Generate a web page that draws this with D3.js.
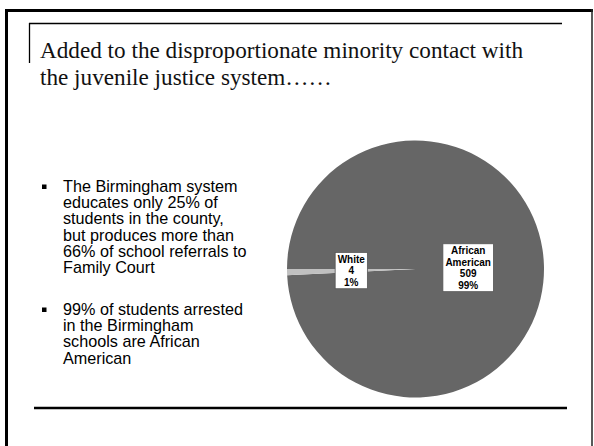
<!DOCTYPE html>
<html>
<head>
<meta charset="utf-8">
<script src="https://cdn.jsdelivr.net/npm/d3@7"></script>
<style>
  body { margin: 0; background: #fff; }
  svg { display: block; }
</style>
</head>
<body>
<div id="chart"></div>
<script>
// data
var categories = ["African American", "White"];
var counts = [509, 4];
var sliceColors = ["#666666", "#c0c0c0"];

var titleLines = [
	"Added to the disproportionate minority contact with",
	"the juvenile justice system……"
];
var bullets = [
	["The Birmingham system", "educates only 25% of", "students in the county,", "but produces more than", "66% of school referrals to", "Family Court"],
	["99% of students arrested", "in the Birmingham", "schools are African", "American"]
];

var W = 594, H = 446;
var svg = d3.select("#chart").append("svg")
	.attr("width", W)
	.attr("height", H);

// slide frame
svg.append("line").attr("x1", 5).attr("y1", 10.5).attr("x2", 593).attr("y2", 10.5)
	.attr("stroke", "#000").attr("stroke-width", 3);
svg.append("line").attr("x1", 6.5).attr("y1", 9).attr("x2", 6.5).attr("y2", H)
	.attr("stroke", "#000").attr("stroke-width", 3);
svg.append("line").attr("x1", 592).attr("y1", 9).attr("x2", 592).attr("y2", H)
	.attr("stroke", "#222").attr("stroke-width", 1.5);
// title rules
svg.append("line").attr("x1", 29).attr("y1", 23.5).attr("x2", 562).attr("y2", 23.5)
	.attr("stroke", "#000").attr("stroke-width", 1.3);
svg.append("line").attr("x1", 29.5).attr("y1", 23).attr("x2", 29.5).attr("y2", 63)
	.attr("stroke", "#000").attr("stroke-width", 1.3);
svg.append("line").attr("x1", 34).attr("y1", 408).attr("x2", 567).attr("y2", 408)
	.attr("stroke", "#000").attr("stroke-width", 2.3);

// title
svg.selectAll("text.title").data(titleLines).enter().append("text")
	.attr("class", "title")
	.attr("x", 40)
	.attr("y", function(d, i){ return 58 + i * 26.6; })
	.attr("font-family", "'Liberation Serif', serif")
	.attr("font-size", "23.2px")
	.attr("fill", "#111")
	.text(function(d){ return d; });

// bullets
var lineH = 16.2;
var bulletTop = [192, 315];
bullets.forEach(function(lines, b){
	var g = svg.append("g");
	g.append("rect")
		.attr("x", 42).attr("y", bulletTop[b] - 7.5)
		.attr("width", 4.5).attr("height", 4.5)
		.attr("fill", "#000");
	g.selectAll("text").data(lines).enter().append("text")
		.attr("x", 63)
		.attr("y", function(d, i){ return bulletTop[b] + i * lineH; })
		.attr("font-family", "'Liberation Sans', Arial, sans-serif")
		.attr("font-size", "16.2px")
		.attr("fill", "#000")
		.text(function(d){ return d; });
});

// pie
var cx = 415.5, cy = 269, r = 128.5;
var total = d3.sum(counts);
var pieData = categories.map(function(c, i){
	return { name: c, value: counts[i], color: sliceColors[i] };
});
var pie = d3.pie()
	.sort(null)
	.value(function(d){ return d.value; })
	.startAngle(-Math.PI / 2)
	.endAngle(Math.PI * 1.5);
var arcs = pie(pieData);
var arc = d3.arc().innerRadius(0).outerRadius(r);

var pg = svg.append("g").attr("transform", "translate(" + cx + "," + cy + ")");
pg.selectAll("path").data(arcs).enter().append("path")
	.attr("d", arc)
	.attr("fill", function(d){ return d.data.color; });

// data labels
var fmtPct = function(v){ return Math.round(v / total * 100) + "%"; };
var lh = 11.6;
arcs.forEach(function(d){
	var big = (d.endAngle - d.startAngle) > Math.PI;
	var lr = r * (big ? 0.41 : 0.5);
	var la = d3.arc().innerRadius(lr).outerRadius(lr);
	var c = la.centroid(d);
	var lines = d.data.name.split(" ").concat([String(d.data.value), fmtPct(d.data.value)]);
	var lg = pg.append("g").attr("transform", "translate(" + c[0] + "," + c[1] + ")");
	var box = lg.append("rect").attr("fill", "#fff").attr("stroke", "#555").attr("stroke-width", 0.8);
	var t = lg.selectAll("text").data(lines).enter().append("text")
		.attr("x", 0)
		.attr("y", function(s, i){ return (i - (lines.length - 1) / 2) * lh; })
		.attr("dy", "0.36em")
		.attr("text-anchor", "middle")
		.attr("font-family", "'Liberation Sans', Arial, sans-serif")
		.attr("font-weight", "bold")
		.attr("font-size", "10px")
		.attr("fill", "#000")
		.text(function(s){ return s; });
	var wmax = 0;
	t.each(function(){ wmax = Math.max(wmax, this.getComputedTextLength()); });
	var bw = wmax + 5, bh = lines.length * lh + 1.5;
	box.attr("x", -bw / 2).attr("y", -bh / 2).attr("width", bw).attr("height", bh);
});
</script>
</body>
</html>
